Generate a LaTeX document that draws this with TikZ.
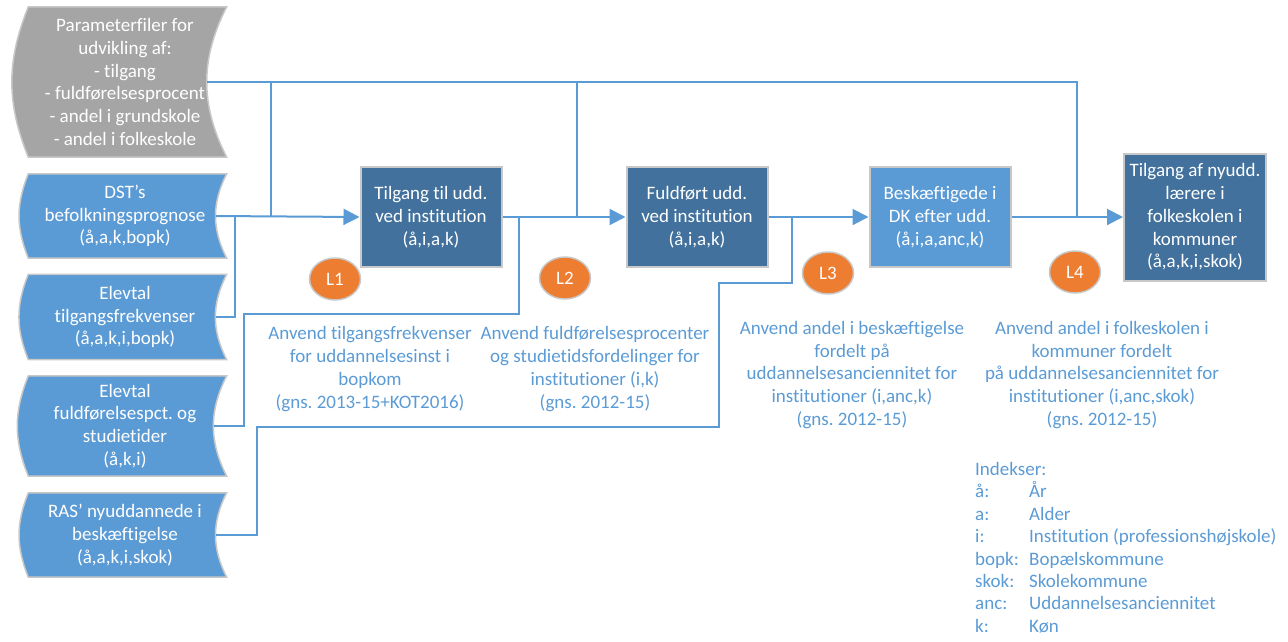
\documentclass[tikz,border=0pt]{standalone}
\usepackage{fontspec}
\setmainfont{Carlito}[Ligatures=NoCommon]
\frenchspacing
\usetikzlibrary{shapes.geometric, arrows.meta, backgrounds}
\definecolor{lineblue}{HTML}{5B9BD5}
\definecolor{darkblue}{HTML}{41719C}
\definecolor{paramgray}{HTML}{A5A5A5}
\definecolor{edgegray}{HTML}{C8C8C8}
\definecolor{lorange}{HTML}{ED7D31}
\newcommand{\diafont}{\fontsize{19}{22.8}\selectfont}
\tikzstyle{arrow} = [line width=2pt, draw=lineblue, -{Triangle[length=16pt, width=16pt]}]
\tikzstyle{link} = [line width=2pt, draw=lineblue]
\tikzstyle{block} = [rectangle, fill=darkblue, draw=edgegray, line width=2pt, text=white, align=center, minimum width=141pt, minimum height=100pt, font=\diafont]
\tikzstyle{source} = [rectangle, text=white, align=center, minimum width=199pt, inner sep=0pt, font=\diafont]
\tikzstyle{lnum} = [ellipse, fill=lorange, draw=edgegray, line width=1.5pt, text=white, minimum width=51pt, minimum height=42pt, inner sep=0pt, font=\diafont]
\tikzstyle{note} = [text=lineblue, align=center, inner sep=0pt, font=\diafont]
% stored data shape behind a source node
\newcommand{\sourceshape}[2]{%
  \begin{pgfonlayer}{background}
    \filldraw[fill=#2, draw=edgegray, line width=1.5pt]
      ([xshift=3pt]#1.north west) -- ([xshift=2pt]#1.north east) to[bend right=27] ([xshift=2pt]#1.south east)
      -- ([xshift=3pt]#1.south west) to[bend left=22] ([xshift=3pt]#1.north west) -- cycle;
  \end{pgfonlayer}}

\begin{document}
\begin{tikzpicture}[x=1pt, y=-1pt]
		\useasboundingbox (0,0) rectangle (1288,641);
		% sources
		\node(param) [source, minimum height=150pt] at (125,82) {Parameterfiler for\\udvikling af:\\- tilgang\\- fuldførelsesprocent\\- andel i grundskole\\- andel i folkeskole};
		\node(dst) [source, minimum height=84pt] at (125,216) {DST’s\\befolkningsprognose\\(å,a,k,bopk)};
		\node(elevtilg) [source, minimum height=85pt] at (125,317) {Elevtal\\tilgangsfrekvenser\\(å,a,k,i,bopk)};
		\node(elevfuld) [source, minimum height=100pt] at (125,426) {Elevtal\\fuldførelsespct. og\\studietider\\(å,k,i)};
		\node(ras) [source, minimum height=84pt] at (125,535) {RAS’ nyuddannede i\\beskæftigelse\\(å,a,k,i,skok)};
		\sourceshape{param}{paramgray}
		\sourceshape{dst}{lineblue}
		\sourceshape{elevtilg}{lineblue}
		\sourceshape{elevfuld}{lineblue}
		\sourceshape{ras}{lineblue}
		% steps
		\node(tilg) [block] at (431,217) {Tilgang til udd.\\ved institution\\(å,i,a,k)};
		\node(fuld) [block] at (697,217) {Fuldført udd.\\ved institution\\(å,i,a,k)};
		\node(besk) [block, fill=lineblue] at (940,217) {Beskæftigede i\\DK efter udd.\\(å,i,a,anc,k)};
		\node(nyudd) [block, minimum width=142pt, minimum height=127pt] at (1195,217) {Tilgang af nyudd.\\lærere i\\folkeskolen i\\kommuner\\(å,a,k,i,skok)};
		\node(l1) [lnum] at (335,279) {L1};
		\node(l2) [lnum] at (565,278) {L2};
		\node(l3) [lnum] at (828,273) {L3};
		\node(l4) [lnum] at (1075,272) {L4};
		\node(n1) [note] at (370,369) {Anvend tilgangsfrekvenser\\for uddannelsesinst i\\bopkom\\(gns. 2013-15+KOT2016)};
		\node(n2) [note] at (595,369) {Anvend fuldførelsesprocenter\\og studietidsfordelinger for\\institutioner (i,k)\\(gns. 2012-15)};
		\node(n3) [note] at (852,375) {Anvend andel i beskæftigelse\\fordelt på\\uddannelsesanciennitet for\\institutioner (i,anc,k)\\(gns. 2012-15)};
		\node(n4) [note] at (1102,375) {Anvend andel i folkeskolen i\\kommuner fordelt\\på uddannelsesanciennitet for\\institutioner (i,anc,skok)\\(gns. 2012-15)};
		\node(idx) [note, align=left, anchor=north west, font=\fontsize{19}{22.4}\selectfont] at (975,462) {Indekser:\\
			\makebox[54pt][l]{å:}År\\
			\makebox[54pt][l]{a:}Alder\\
			\makebox[54pt][l]{i:}Institution (professionshøjskole)\\
			\makebox[54pt][l]{bopk:}Bopælskommune\\
			\makebox[54pt][l]{skok:}Skolekommune\\
			\makebox[54pt][l]{anc:}Uddannelsesanciennitet\\
			\makebox[54pt][l]{k:}Køn};
		% junctions
		\coordinate(j0) at (235,217);
		\coordinate(j1) at (271,217);
		\coordinate(j2) at (519,217);
		\coordinate(j3) at (577,217);
		\coordinate(j4) at (792,217);
		\coordinate(j5) at (1077,217);
		\coordinate(b2) at (244,314);
		\coordinate(b3) at (257,427);
		\coordinate(b4) at (719,283);
		% connectors
		\draw [link] ([xshift=-18pt]param.east) -| (j5);
		\draw [link] (j1 |- param.east) -- (j1);
		\draw [link] (j3 |- param.east) -- (j3);
		\draw [link] ([xshift=-9pt]elevtilg.east) -| (j0);
		\draw [link] ([xshift=-11pt]elevfuld.east) -| (b2) -| (j2);
		\draw [link] ([xshift=-9pt]ras.east) -| (b3) -| (b4) -| (j4);
		\draw [arrow] ([xshift=-9pt]dst.east) -- (tilg.west);
		\draw [arrow] (tilg) -- (fuld);
		\draw [arrow] (fuld) -- (besk);
		\draw [arrow] (besk) -- (nyudd);
	\end{tikzpicture}
\end{document}
